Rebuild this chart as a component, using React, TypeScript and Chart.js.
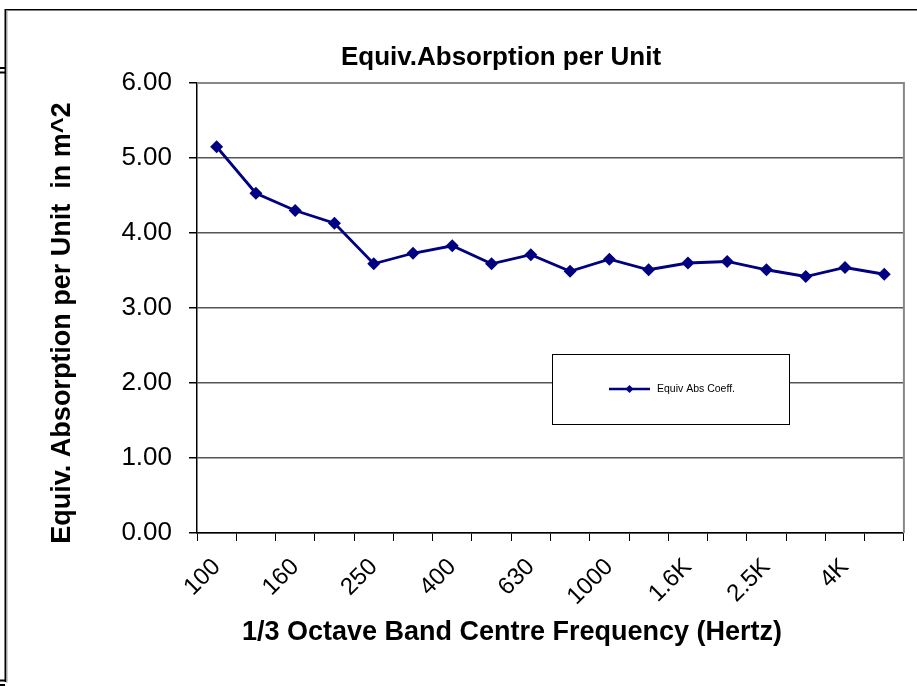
import React, { useEffect, useRef } from "react";
import { Chart, registerables } from "chart.js";
Chart.register(...registerables);

const categories = ["100", "125", "160", "200", "250", "315", "400", "500", "630", "800", "1000", "1250", "1.6K", "2K", "2.5K", "3.15K", "4K", "5K"];
const tickLabels = ["100", "", "160", "", "250", "", "400", "", "630", "", "1000", "", "1.6K", "", "2.5K", "", "4K", ""];
const absValues = [5.15, 4.53, 4.3, 4.13, 3.59, 3.73, 3.83, 3.59, 3.71, 3.49, 3.65, 3.51, 3.6, 3.62, 3.51, 3.42, 3.54, 3.45];
const yTicks = [0, 1, 2, 3, 4, 5, 6];
const seriesName = "Equiv Abs Coeff.";
const chartTitle = "Equiv.Absorption per Unit";
const xTitle = "1/3 Octave Band Centre Frequency (Hertz)";
const yTitle = "Equiv. Absorption per Unit  in m^2";

const FONT = '"Liberation Sans", Arial, sans-serif';
const NAVY = "#000080";

const decorPlugin = {
  id: "decor",
  beforeDatasetsDraw(chart: any) {
    const { ctx, chartArea } = chart;
    ctx.save();
    ctx.strokeStyle = "#888888";
    ctx.lineWidth = 2;
    ctx.beginPath();
    ctx.moveTo(chartArea.left, chartArea.top);
    ctx.lineTo(chartArea.right, chartArea.top);
    ctx.lineTo(chartArea.right, chartArea.bottom);
    ctx.stroke();
    ctx.restore();
  },
  afterDraw(chart: any) {
    const { ctx } = chart;
    ctx.save();
    // outer frame
    ctx.fillStyle = "#000";
    ctx.fillRect(5, 9, 912, 1.5);
    ctx.fillRect(4.5, 9, 1.5, 673);
    ctx.fillStyle = "#a0a0a0";
    ctx.fillRect(6, 10.5, 1.5, 672);
    ctx.fillStyle = "#000";
    ctx.fillRect(0, 67, 5, 2);
    ctx.fillRect(0, 71.5, 5, 2);
    ctx.fillRect(0, 679.5, 5, 2);
    ctx.fillRect(0, 684, 5, 2);

    // titles
    ctx.fillStyle = "#000";
    ctx.textAlign = "center";
    ctx.textBaseline = "middle";
    ctx.font = "bold 26px " + FONT;
    ctx.fillText(chartTitle, 501, 58);
    ctx.font = "bold 27px " + FONT;
    ctx.fillText(xTitle, 512, 633);
    ctx.save();
    ctx.translate(63, 323);
    ctx.rotate(-Math.PI / 2);
    ctx.fillText(yTitle, 0, 0);
    ctx.restore();

    // legend box
    const lx = 552.5, ly = 354.5, lw = 237, lh = 70;
    ctx.fillStyle = "#fff";
    ctx.fillRect(lx, ly, lw, lh);
    ctx.strokeStyle = "#000";
    ctx.lineWidth = 1;
    ctx.strokeRect(lx, ly, lw, lh);
    const cy = 389;
    ctx.strokeStyle = NAVY;
    ctx.lineWidth = 2.5;
    ctx.beginPath();
    ctx.moveTo(609, cy);
    ctx.lineTo(650, cy);
    ctx.stroke();
    ctx.fillStyle = NAVY;
    ctx.beginPath();
    ctx.moveTo(629.5, cy - 4);
    ctx.lineTo(633.5, cy);
    ctx.lineTo(629.5, cy + 4);
    ctx.lineTo(625.5, cy);
    ctx.closePath();
    ctx.fill();
    ctx.fillStyle = "#000";
    ctx.textAlign = "left";
    ctx.font = "10.5px " + FONT;
    ctx.fillText(seriesName, 657, cy);
    ctx.restore();
  },
};

export default function App() {
  const ref = useRef<HTMLCanvasElement | null>(null);
  useEffect(() => {
    if (!ref.current) return;
    const chart = new Chart(ref.current, {
      type: "line",
      data: {
        labels: categories,
        datasets: [
          {
            label: seriesName,
            data: absValues,
            borderColor: NAVY,
            backgroundColor: NAVY,
            borderWidth: 2.8,
            pointStyle: "rectRot",
            pointRadius: 6.5,
            pointBorderWidth: 0,
            pointBackgroundColor: NAVY,
            tension: 0,
          },
        ],
      },
      options: {
        responsive: false,
        animation: false,
        devicePixelRatio: 1,
        layout: { padding: { left: 0, top: 83, right: 13, bottom: 0 } },
        plugins: {
          legend: { display: false },
          title: { display: false },
          tooltip: { enabled: false },
        },
        scales: {
          x: {
            type: "category",
            offset: true,
            grid: {
              offset: true,
              drawOnChartArea: false,
              drawTicks: true,
              tickLength: 8,
              color: "#000",
              lineWidth: 1,
            },
            border: { display: true, color: "#000", width: 1.5 },
            ticks: {
              autoSkip: false,
              maxRotation: 45,
              minRotation: 45,
              padding: 12,
              color: "#000",
              font: { family: FONT, size: 24 },
              callback: (_v: any, i: number) => tickLabels[i],
            },
            afterFit: (s: any) => {
              s.height = 686 - 533;
            },
          },
          y: {
            min: 0,
            max: 6,
            afterBuildTicks: (s: any) => {
              s.ticks = yTicks.map((v) => ({ value: v }));
            },
            grid: {
              color: "#555",
              lineWidth: 1.5,
              tickLength: 8,
              tickColor: "#000",
            },
            border: { display: true, color: "#000", width: 1.5 },
            ticks: {
              padding: 17,
              color: "#000",
              font: { family: FONT, size: 26 },
              callback: (v: any) => Number(v).toFixed(2),
            },
            afterFit: (s: any) => {
              s.width = 197;
            },
          },
        },
      },
      plugins: [decorPlugin],
    });
    return () => chart.destroy();
  }, []);
  return (
    <div style={{ position: "fixed", left: 0, top: 0, width: 917, height: 686, background: "#fff" }}>
      <canvas ref={ref} width={917} height={686} style={{ width: 917, height: 686, display: "block" }} />
    </div>
  );
}
